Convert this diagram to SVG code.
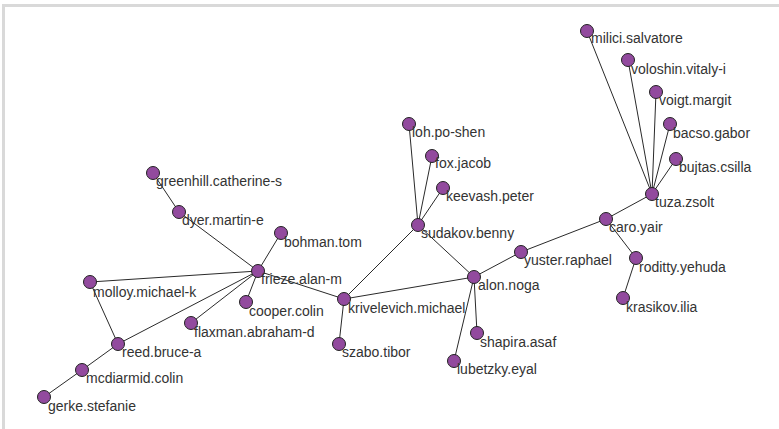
<svg xmlns="http://www.w3.org/2000/svg" width="779" height="429" viewBox="0 0 779 429">
<style>
.bg{fill:#fff}
.frame{fill:#d9d9d9}
.e{stroke:#2a2a2a;stroke-width:1;fill:none}
.n circle{fill:#924a9e;stroke:#222;stroke-width:1}
.n text{font-family:"Liberation Sans",Arial,sans-serif;font-size:14px;fill:#333}
</style>
<rect class="bg" x="0" y="0" width="779" height="429"/>
<rect class="frame" x="2" y="4" width="777" height="3"/>
<rect class="frame" x="2" y="4" width="3" height="425"/>
<g id="edges">
<line class="e" x1="587" y1="31" x2="652" y2="194"/>
<line class="e" x1="628" y1="60" x2="652" y2="194"/>
<line class="e" x1="656" y1="92" x2="652" y2="194"/>
<line class="e" x1="670" y1="124" x2="652" y2="194"/>
<line class="e" x1="676" y1="159" x2="652" y2="194"/>
<line class="e" x1="652" y1="194" x2="606" y2="219"/>
<line class="e" x1="606" y1="219" x2="521" y2="252"/>
<line class="e" x1="606" y1="219" x2="636" y2="258"/>
<line class="e" x1="636" y1="258" x2="623" y2="298"/>
<line class="e" x1="521" y1="252" x2="474" y2="277"/>
<line class="e" x1="474" y1="277" x2="418" y2="225"/>
<line class="e" x1="474" y1="277" x2="344" y2="299"/>
<line class="e" x1="474" y1="277" x2="477" y2="333"/>
<line class="e" x1="474" y1="277" x2="454" y2="361"/>
<line class="e" x1="418" y1="225" x2="409" y2="124"/>
<line class="e" x1="418" y1="225" x2="432" y2="156"/>
<line class="e" x1="418" y1="225" x2="443" y2="188"/>
<line class="e" x1="418" y1="225" x2="344" y2="299"/>
<line class="e" x1="344" y1="299" x2="258" y2="271"/>
<line class="e" x1="344" y1="299" x2="339" y2="344"/>
<line class="e" x1="258" y1="271" x2="281" y2="233"/>
<line class="e" x1="258" y1="271" x2="179" y2="212"/>
<line class="e" x1="179" y1="212" x2="153" y2="173"/>
<line class="e" x1="258" y1="271" x2="90" y2="282"/>
<line class="e" x1="258" y1="271" x2="246" y2="302"/>
<line class="e" x1="258" y1="271" x2="191" y2="323"/>
<line class="e" x1="258" y1="271" x2="118" y2="344"/>
<line class="e" x1="90" y1="282" x2="118" y2="344"/>
<line class="e" x1="118" y1="344" x2="82" y2="370"/>
<line class="e" x1="82" y1="370" x2="44" y2="397"/>
</g>
<g id="milici" class="n"><circle cx="587" cy="31" r="6.5"/><text x="591" y="43">milici.salvatore</text></g>
<g id="voloshin" class="n"><circle cx="628" cy="60" r="6.5"/><text x="631" y="74">voloshin.vitaly-i</text></g>
<g id="voigt" class="n"><circle cx="656" cy="92" r="6.5"/><text x="659" y="105">voigt.margit</text></g>
<g id="bacso" class="n"><circle cx="670" cy="124" r="6.5"/><text x="673" y="138">bacso.gabor</text></g>
<g id="bujtas" class="n"><circle cx="676" cy="159" r="6.5"/><text x="679" y="172">bujtas.csilla</text></g>
<g id="tuza" class="n"><circle cx="652" cy="194" r="6.5"/><text x="655" y="207">tuza.zsolt</text></g>
<g id="caro" class="n"><circle cx="606" cy="219" r="6.5"/><text x="609" y="232">caro.yair</text></g>
<g id="roditty" class="n"><circle cx="636" cy="258" r="6.5"/><text x="639" y="272">roditty.yehuda</text></g>
<g id="krasikov" class="n"><circle cx="623" cy="298" r="6.5"/><text x="626" y="312">krasikov.ilia</text></g>
<g id="yuster" class="n"><circle cx="521" cy="252" r="6.5"/><text x="524" y="265">yuster.raphael</text></g>
<g id="alon" class="n"><circle cx="474" cy="277" r="6.5"/><text x="478" y="290">alon.noga</text></g>
<g id="shapira" class="n"><circle cx="477" cy="333" r="6.5"/><text x="480" y="347">shapira.asaf</text></g>
<g id="lubetzky" class="n"><circle cx="454" cy="361" r="6.5"/><text x="457" y="374">lubetzky.eyal</text></g>
<g id="sudakov" class="n"><circle cx="418" cy="225" r="6.5"/><text x="421" y="238">sudakov.benny</text></g>
<g id="loh" class="n"><circle cx="409" cy="124" r="6.5"/><text x="412" y="137">loh.po-shen</text></g>
<g id="fox" class="n"><circle cx="432" cy="156" r="6.5"/><text x="435" y="168">fox.jacob</text></g>
<g id="keevash" class="n"><circle cx="443" cy="188" r="6.5"/><text x="446" y="201">keevash.peter</text></g>
<g id="krivelevich" class="n"><circle cx="344" cy="299" r="6.5"/><text x="348" y="313">krivelevich.michael</text></g>
<g id="szabo" class="n"><circle cx="339" cy="344" r="6.5"/><text x="342" y="357">szabo.tibor</text></g>
<g id="frieze" class="n"><circle cx="258" cy="271" r="6.5"/><text x="261" y="284">frieze.alan-m</text></g>
<g id="bohman" class="n"><circle cx="281" cy="233" r="6.5"/><text x="284" y="247">bohman.tom</text></g>
<g id="dyer" class="n"><circle cx="179" cy="212" r="6.5"/><text x="182" y="225">dyer.martin-e</text></g>
<g id="greenhill" class="n"><circle cx="153" cy="173" r="6.5"/><text x="156" y="186">greenhill.catherine-s</text></g>
<g id="molloy" class="n"><circle cx="90" cy="282" r="6.5"/><text x="93" y="297">molloy.michael-k</text></g>
<g id="cooper" class="n"><circle cx="246" cy="302" r="6.5"/><text x="249" y="316">cooper.colin</text></g>
<g id="flaxman" class="n"><circle cx="191" cy="323" r="6.5"/><text x="194" y="337">flaxman.abraham-d</text></g>
<g id="reed" class="n"><circle cx="118" cy="344" r="6.5"/><text x="122" y="357">reed.bruce-a</text></g>
<g id="mcdiarmid" class="n"><circle cx="82" cy="370" r="6.5"/><text x="86" y="383">mcdiarmid.colin</text></g>
<g id="gerke" class="n"><circle cx="44" cy="397" r="6.5"/><text x="48" y="411">gerke.stefanie</text></g>
</svg>
